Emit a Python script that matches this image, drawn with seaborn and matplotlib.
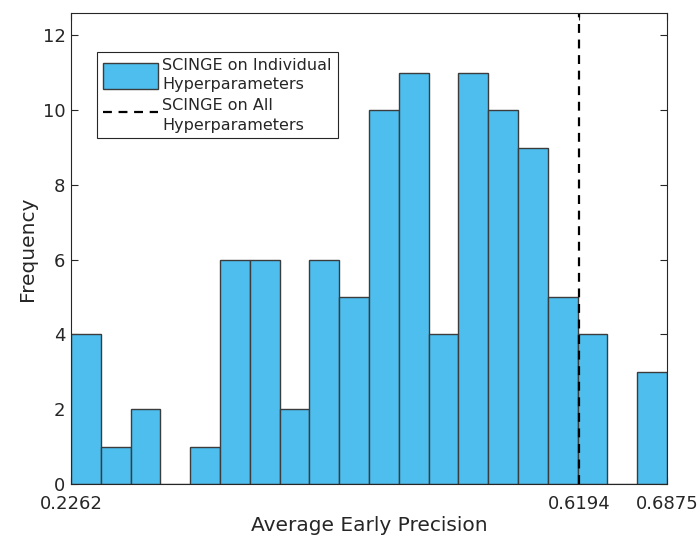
import numpy as np
import pandas as pd
import matplotlib
matplotlib.use("Agg")
import matplotlib.pyplot as plt
from matplotlib.patches import Patch
from matplotlib.lines import Line2D
import seaborn as sns

# Histogram of average early precision over 100 hyperparameter settings
x_min = 0.2262
x_max = 0.6875
all_hyper_aep = 0.6194
n_bins = 20
counts = [4, 1, 2, 0, 1, 6, 6, 2, 6, 5, 10, 11, 4, 11, 10, 9, 5, 4, 0, 3]
x_ticks = [0.2262, 0.6194, 0.6875]
y_ticks = [0, 2, 4, 6, 8, 10, 12]

edges = np.linspace(x_min, x_max, n_bins + 1)
centers = (edges[:-1] + edges[1:]) / 2
df = pd.DataFrame({"aep": centers, "count": counts})

sns.set_style("white")
text_color = "#262626"
plt.rcParams["font.family"] = ["DejaVu Sans"]

fig = plt.figure(figsize=(6.99, 5.39), dpi=100)
ax = fig.add_axes([0.1016, 0.102, 0.8526, 0.874])

bar_color = "#4DBEEE"
sns.histplot(data=df, x="aep", weights="count", bins=edges.tolist(), ax=ax,
             color=bar_color, alpha=1.0, edgecolor="#3c3c3c", linewidth=1.0)

dash = (0, (4, 3))
ax.axvline(all_hyper_aep, color="black", linestyle=dash, linewidth=1.6)

ax.set_xlim(x_min, x_max)
ax.set_ylim(0, 12.6)
ax.set_xticks(x_ticks)
ax.set_xticklabels([f"{t:.4f}" for t in x_ticks])
ax.set_yticks(y_ticks)

ax.set_xlabel("Average Early Precision", fontsize=14.5, color=text_color,
              labelpad=2)
ax.set_ylabel("Frequency", fontsize=14.5, color=text_color)

ax.tick_params(axis="both", direction="in", length=5, width=0.8,
               labelsize=13, colors=text_color, top=True, right=True,
               bottom=True, left=True, pad=4)
ax.tick_params(axis="x", pad=8)
for side in ["left", "right", "top", "bottom"]:
    ax.spines[side].set_visible(True)
    ax.spines[side].set_color(text_color)
    ax.spines[side].set_linewidth(0.8)

handles = [
    Patch(facecolor=bar_color, edgecolor="#3c3c3c", linewidth=1.0),
    Line2D([0], [0], color="black", linestyle=dash, linewidth=1.6),
]
labels = ["SCINGE on Individual\nHyperparameters",
          "SCINGE on All\nHyperparameters"]
leg = ax.legend(handles, labels, loc="upper left",
                bbox_to_anchor=(0.0436, 0.917), fontsize=11.5,
                handlelength=3.45, handleheight=2.1, handletextpad=0.3,
                borderpad=0.35, labelspacing=0.35, borderaxespad=0,
                frameon=True, fancybox=False, framealpha=1)
leg.get_frame().set_edgecolor(text_color)
leg.get_frame().set_linewidth(0.8)
for t in leg.get_texts():
    t.set_color(text_color)
    t.set_linespacing(1.4)

fig.savefig("out.png", dpi=100)
